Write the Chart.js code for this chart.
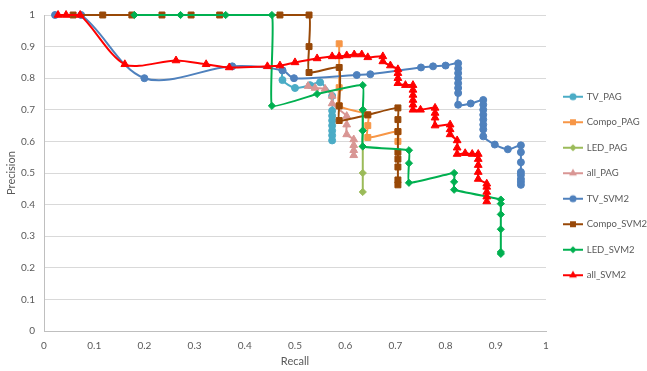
<!DOCTYPE html>
<html>
<head>
<meta charset="utf-8">
<title>Precision / Recall</title>
<script src="https://cdn.jsdelivr.net/npm/chart.js@4.4.1/dist/chart.umd.min.js"></script>
<style>
  html, body { margin: 0; padding: 0; background: #fff; }
  canvas { display: block; }
</style>
</head>
<body>
<canvas id="prChart" width="647" height="371"></canvas>
<script>
// ---- data (recall on x, precision on y) ----
const seriesNames = ['TV_PAG', 'Compo_PAG', 'LED_PAG', 'all_PAG', 'TV_SVM2', 'Compo_SVM2', 'LED_SVM2', 'all_SVM2'];

const tvPagRecall    = [0.475, 0.475, 0.5, 0.53, 0.55, 0.574, 0.574, 0.574, 0.574, 0.574, 0.574, 0.574, 0.574];
const tvPagPrecision = [0.825, 0.794, 0.769, 0.778, 0.787, 0.744, 0.697, 0.681, 0.666, 0.65, 0.634, 0.619, 0.603];

const compoPagRecall    = [0.588, 0.588, 0.588, 0.645, 0.645, 0.645, 0.705, 0.705];
const compoPagPrecision = [0.909, 0.77, 0.7125, 0.684, 0.65, 0.6125, 0.631, 0.60];

const ledPagRecall    = [0.635, 0.635, 0.635, 0.635, 0.635];
const ledPagPrecision = [0.7, 0.634, 0.584, 0.5, 0.44];

const allPagRecall    = [0.526, 0.54, 0.56, 0.574, 0.574, 0.603, 0.603, 0.603, 0.617, 0.617, 0.617, 0.617];
const allPagPrecision = [0.775, 0.769, 0.766, 0.744, 0.72, 0.68, 0.653, 0.622, 0.606, 0.588, 0.572, 0.556];

const tvSvmRecall = [0.022, 0.074, 0.2, 0.375, 0.475, 0.498, 0.623, 0.65, 0.751, 0.775, 0.8,
  0.825, 0.825, 0.825, 0.825, 0.825, 0.825, 0.825, 0.825, 0.85,
  0.875, 0.875, 0.875, 0.875, 0.875, 0.875, 0.875, 0.875, 0.898, 0.924,
  0.95, 0.95, 0.95, 0.95, 0.95, 0.95, 0.95, 0.95];
const tvSvmPrecision = [1, 1, 0.8, 0.8375, 0.825, 0.8, 0.81, 0.8125, 0.834, 0.8375, 0.84,
  0.847, 0.831, 0.816, 0.8, 0.784, 0.769, 0.753, 0.716, 0.72,
  0.731, 0.716, 0.7, 0.684, 0.669, 0.653, 0.638, 0.616, 0.59, 0.575,
  0.5875, 0.566, 0.534, 0.503, 0.494, 0.481, 0.472, 0.4625];

const compoSvmRecall = [0.058, 0.117, 0.175, 0.235, 0.293, 0.35, 0.47, 0.528, 0.528, 0.528, 0.588, 0.588, 0.588, 0.645,
  0.705, 0.705, 0.705, 0.705, 0.705, 0.705, 0.705, 0.705];
const compoSvmPrecision = [1, 1, 1, 1, 1, 1, 1, 1, 0.9, 0.818, 0.834, 0.7125, 0.666, 0.684,
  0.706, 0.669, 0.631, 0.566, 0.544, 0.519, 0.478, 0.4625];

const ledSvmRecall = [0.18, 0.272, 0.362, 0.454, 0.454, 0.544, 0.635, 0.635, 0.635, 0.635, 0.727, 0.727, 0.727,
  0.817, 0.817, 0.817, 0.91, 0.91, 0.91, 0.91, 0.91, 0.91];
const ledSvmPrecision = [1, 1, 1, 1, 0.7125, 0.75, 0.778, 0.7, 0.634, 0.584, 0.572, 0.531, 0.469,
  0.5, 0.472, 0.447, 0.416, 0.403, 0.369, 0.322, 0.25, 0.244];

const allSvmRecall = [0.028, 0.044, 0.072, 0.161, 0.263, 0.323, 0.369, 0.445, 0.47, 0.5, 0.544,
  0.574, 0.588, 0.603, 0.618, 0.633, 0.645, 0.675, 0.675, 0.69,
  0.705, 0.705, 0.705, 0.705, 0.72, 0.735, 0.735, 0.735, 0.735, 0.735, 0.735, 0.75,
  0.779, 0.779, 0.779, 0.779, 0.809, 0.809, 0.809, 0.823, 0.823, 0.823, 0.839, 0.853,
  0.865, 0.865, 0.865, 0.865, 0.865, 0.882, 0.882, 0.882, 0.882, 0.882];
const allSvmPrecision = [1, 1, 1, 0.844, 0.856, 0.844, 0.834, 0.8375, 0.84, 0.85, 0.8625,
  0.869, 0.869, 0.872, 0.875, 0.875, 0.866, 0.869, 0.853, 0.84,
  0.828, 0.816, 0.8, 0.784, 0.778, 0.778, 0.763, 0.747, 0.731, 0.716, 0.70, 0.70,
  0.706, 0.69, 0.675, 0.65, 0.653, 0.638, 0.622, 0.603, 0.58, 0.56, 0.5625, 0.56,
  0.56, 0.544, 0.525, 0.503, 0.481, 0.466, 0.456, 0.44, 0.425, 0.41];

const axisTicks = [0, 0.1, 0.2, 0.3, 0.4, 0.5, 0.6, 0.7, 0.8, 0.9, 1];

// ---- styling ----
const seriesColors = ['#4BACC6', '#F79646', '#9BBB59', '#D99694', '#4F81BD', '#984807', '#00B050', '#FF0000'];
const seriesMarkers = ['circle', 'rect', 'rectRot', 'triangle', 'circle', 'rect', 'rectRot', 'triangle'];
// excel keeps the long vertical drops nearly straight, so the step-like series get less smoothing
const seriesTension = [0.25, 0.25, 0.25, 0.25, 0.33, 0.14, 0.1, 0.28];
const markerRadius = { circle: 3.5, rect: 4.2, rectRot: 3.6, triangle: 4.5 };
const textColor = '#595959';
const fontFamily = 'Lato, "Open Sans", sans-serif';
const LEGEND_W = 101;
const ICON_W = 20;

const seriesData = [
  [tvPagRecall, tvPagPrecision],
  [compoPagRecall, compoPagPrecision],
  [ledPagRecall, ledPagPrecision],
  [allPagRecall, allPagPrecision],
  [tvSvmRecall, tvSvmPrecision],
  [compoSvmRecall, compoSvmPrecision],
  [ledSvmRecall, ledSvmPrecision],
  [allSvmRecall, allSvmPrecision]
];

function toPoints(rec, prec) {
  return rec.map((r, i) => ({ x: r, y: prec[i] }));
}

// same shapes chart.js uses for its markers
function markerPath(g, style, cx, cy, r) {
  g.beginPath();
  if (style === 'circle') {
    g.arc(cx, cy, r, 0, Math.PI * 2);
  } else if (style === 'rect') {
    const s = r * Math.SQRT1_2;
    g.rect(cx - s, cy - s, 2 * s, 2 * s);
  } else if (style === 'rectRot') {
    g.moveTo(cx, cy - r); g.lineTo(cx + r, cy); g.lineTo(cx, cy + r); g.lineTo(cx - r, cy);
    g.closePath();
  } else {
    let a = 0;
    g.moveTo(cx + Math.sin(a) * r, cy - Math.cos(a) * r);
    a += Math.PI * 2 / 3;
    g.lineTo(cx + Math.sin(a) * r, cy - Math.cos(a) * r);
    a += Math.PI * 2 / 3;
    g.lineTo(cx + Math.sin(a) * r, cy - Math.cos(a) * r);
    g.closePath();
  }
}

// legend icon: short line with the marker in the middle, like the excel legend
function legendIcon(color, style) {
  const c = document.createElement('canvas');
  c.width = ICON_W; c.height = 10;
  const g = c.getContext('2d');
  g.strokeStyle = color; g.lineWidth = 2;
  g.beginPath(); g.moveTo(0, 5); g.lineTo(ICON_W, 5); g.stroke();
  g.fillStyle = color;
  markerPath(g, style, ICON_W / 2, 5, markerRadius[style]);
  g.fill();
  return c;
}

const legendIcons = seriesNames.map((n, i) => legendIcon(seriesColors[i], seriesMarkers[i]));

const datasets = seriesNames.map((name, i) => ({
  label: name,
  data: toPoints(seriesData[i][0], seriesData[i][1]),
  borderColor: seriesColors[i],
  backgroundColor: seriesColors[i],
  borderWidth: 2,
  pointStyle: seriesMarkers[i],
  pointRadius: markerRadius[seriesMarkers[i]],
  pointBorderWidth: 1,
  pointBackgroundColor: seriesColors[i],
  pointBorderColor: seriesColors[i],
  tension: seriesTension[i],
  fill: false,
  clip: false,
  order: seriesNames.length - 1 - i   // later series drawn on top
}));

// legend has a fixed width and sits a bit higher / further right than chart.js puts it
const legendTweak = {
  id: 'legendTweak',
  beforeLayout(chart) {
    const lg = chart.legend;
    if (!lg || lg._tweaked) return;
    const fit = lg.fit;
    lg.fit = function () { fit.call(this); this.width = LEGEND_W; };
    const draw = lg.draw;
    lg.draw = function () {
      this.ctx.save();
      this.ctx.translate(2, -5);
      draw.call(this);
      this.ctx.restore();
    };
    lg._tweaked = true;
  }
};

Chart.defaults.font.family = fontFamily;
Chart.defaults.color = textColor;

const chart = new Chart(document.getElementById('prChart').getContext('2d'), {
  type: 'line',
  data: { datasets: datasets },
  options: {
    responsive: false,
    animation: false,
    devicePixelRatio: 1,
    layout: { padding: { top: 11, right: 0, bottom: 0, left: 0 } },
    scales: {
      x: {
        type: 'linear',
        min: 0,
        max: 1,
        afterFit: (s) => { s.height = 40; },
        afterBuildTicks: (s) => { s.ticks = axisTicks.map(v => ({ value: v })); },
        grid: { display: false, drawTicks: false },
        border: { display: true, color: '#bfbfbf', width: 1 },
        ticks: {
          padding: 9,
          color: textColor,
          font: { size: 10 },
          callback: (v) => String(+v.toFixed(1))
        },
        title: {
          display: true,
          text: 'Recall',
          color: textColor,
          font: { size: 11 },
          padding: { top: 4, bottom: 3 }
        }
      },
      y: {
        type: 'linear',
        min: 0,
        max: 1,
        afterFit: (s) => { s.width = 44; },
        afterBuildTicks: (s) => { s.ticks = axisTicks.map(v => ({ value: v })); },
        grid: { color: '#d9d9d9', drawTicks: false, lineWidth: 1 },
        border: { display: true, color: '#bfbfbf', width: 1 },
        ticks: {
          padding: 9,
          color: textColor,
          font: { size: 10 },
          callback: (v) => String(+v.toFixed(1))
        },
        title: {
          display: true,
          text: 'Precision',
          color: textColor,
          font: { size: 11 },
          padding: { top: 5, bottom: 0 }
        }
      }
    },
    plugins: {
      tooltip: { enabled: false },
      legend: {
        position: 'right',
        align: 'center',
        labels: {
          usePointStyle: true,
          pointStyleWidth: ICON_W - 2,
          padding: 16,
          color: textColor,
          font: { size: 9.5 },
          generateLabels: (ch) => ch.data.datasets.map((ds, i) => ({
            text: ds.label,
            fillStyle: ds.borderColor,
            strokeStyle: ds.borderColor,
            fontColor: textColor,
            lineWidth: 0,
            pointStyle: legendIcons[i],
            hidden: false,
            datasetIndex: i
          }))
        }
      }
    }
  },
  plugins: [legendTweak]
});
</script>
</body>
</html>
